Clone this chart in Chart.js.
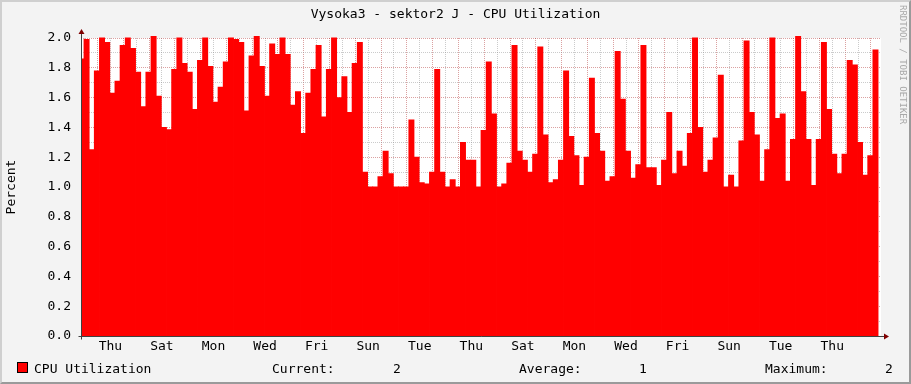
<!DOCTYPE html>
<html>
<head>
<meta charset="utf-8">
<script src="https://cdn.jsdelivr.net/npm/chart.js@4/dist/chart.umd.min.js"></script>
<style>
html,body{margin:0;padding:0;background:#f3f3f3;}
#wrap{position:relative;width:911px;height:384px;background:#f3f3f3;overflow:hidden;}
#c{position:absolute;left:0;top:0;}
#frame{position:absolute;left:0;top:0;width:911px;height:384px;box-sizing:border-box;border-style:solid;border-width:2px;border-color:#cfcfcf #9a9a9a #9a9a9a #cfcfcf;pointer-events:none;}
.t{position:absolute;font-family:"DejaVu Sans Mono",monospace;font-size:13px;line-height:15px;color:#000;white-space:pre;}
#box{position:absolute;left:17px;top:362px;width:11px;height:11px;box-sizing:border-box;border:1px solid #000;background:#ff0000;}
#wm{position:absolute;left:898px;top:5px;font-family:"DejaVu Sans Mono",monospace;font-size:9px;line-height:9px;color:#a8a8a8;writing-mode:vertical-rl;white-space:pre;}
</style>
</head>
<body>
<div id="wrap">
  <canvas id="c" width="911" height="384" style="width:911px;height:384px;"></canvas>
  <div id="box"></div>
  <div class="t" id="lg0" style="left:34px;top:361px;"></div>
  <div class="t" id="s0" style="left:272px;top:361px;"></div>
  <div class="t" id="v0" style="left:393px;top:361px;"></div>
  <div class="t" id="s1" style="left:519px;top:361px;"></div>
  <div class="t" id="v1" style="left:639px;top:361px;"></div>
  <div class="t" id="s2" style="left:765px;top:361px;"></div>
  <div class="t" id="v2" style="left:885px;top:361px;"></div>
  <div id="wm"></div>
  <div id="frame"></div>
</div>
<script>
// ---------------- data ----------------
const chartTitle = 'Vysoka3 - sektor2 J - CPU Utilization';
const yAxisTitle = 'Percent';
const seriesName = 'CPU Utilization';
const watermark = 'RRDTOOL / TOBI OETIKER';

const cpuValues = [
  1.86,1.99,1.25,1.78,2.00,1.97,1.63,1.71,1.95,2.00,1.93,1.77,1.54,1.77,2.01,1.61,1.40,1.385,1.79,2.00,
  1.83,1.77,1.52,1.85,2.00,1.81,1.57,1.67,1.84,2.00,1.99,1.97,1.51,1.88,2.01,1.81,1.61,1.96,1.89,2.00,
  1.89,1.55,1.64,1.36,1.63,1.79,1.95,1.47,1.79,2.00,1.60,1.74,1.50,1.83,1.97,1.10,1.00,1.00,1.07,1.24,
  1.09,1.00,1.00,1.00,1.45,1.20,1.03,1.02,1.10,1.79,1.10,1.00,1.05,1.00,1.30,1.18,1.18,1.00,1.38,1.84,
  1.49,1.00,1.02,1.16,1.95,1.24,1.18,1.10,1.22,1.94,1.35,1.03,1.05,1.18,1.78,1.34,1.21,1.01,1.20,1.73,
  1.36,1.24,1.04,1.07,1.91,1.59,1.24,1.06,1.15,1.95,1.13,1.13,1.01,1.18,1.50,1.09,1.24,1.14,1.36,2.00,
  1.40,1.10,1.18,1.33,1.75,1.00,1.08,1.00,1.31,1.98,1.50,1.35,1.04,1.25,2.00,1.46,1.49,1.04,1.32,2.01,
  1.64,1.32,1.01,1.32,1.97,1.52,1.22,1.09,1.22,1.85,1.82,1.30,1.08,1.21,1.92
];

const xTickLabels = ['Thu','Sat','Mon','Wed','Fri','Sun','Tue','Thu','Sat','Mon','Wed','Fri','Sun','Tue','Thu'];
const yTickLabels = ['0.0','0.2','0.4','0.6','0.8','1.0','1.2','1.4','1.6','1.8','2.0'];

const statNames  = ['Current:','Average:','Maximum:'];
const statValues = ['2','1','2'];

// ---------------- time layout (days) ----------------
const SPAN_DAYS  = 31.03;  // visible range
const BAR_DAYS   = 0.2;    // one sample
const FIRST_BAR  = 0.016;  // centre of first (partly hidden) sample
const FIRST_NOON = 0.14;   // first grid line (a noon)

const gridTimes = [];
for (let k = 0; FIRST_NOON + k * 0.5 <= SPAN_DAYS; k++) gridTimes.push(FIRST_NOON + k * 0.5);
const yTickValues = [];
for (let i = 0; i <= 20; i++) yTickValues.push(i / 10);

// ---------------- html text ----------------
document.getElementById('lg0').textContent = seriesName;
statNames.forEach((s, i) => {
  document.getElementById('s' + i).textContent = s;
  document.getElementById('v' + i).textContent = statValues[i];
});
document.getElementById('wm').textContent = watermark;

// ---------------- plugins ----------------
const plotBg = {
  id: 'plotBg',
  beforeDraw(chart) {
    const a = chart.chartArea, ctx = chart.ctx;
    ctx.save();
    ctx.fillStyle = '#ffffff';
    ctx.fillRect(a.left, a.top, a.right - a.left, a.bottom - a.top);
    ctx.restore();
  }
};
const axesArrows = {
  id: 'axesArrows',
  afterDraw(chart) {
    const a = chart.chartArea, ctx = chart.ctx;
    const L = Math.round(a.left) + 0.5, B = Math.round(a.bottom) + 0.5;
    ctx.save();
    ctx.strokeStyle = '#404040';
    ctx.lineWidth = 1;
    ctx.beginPath();
    ctx.moveTo(L - 3, B); ctx.lineTo(a.right + 3, B);
    ctx.moveTo(L, B + 3); ctx.lineTo(L, a.top - 4);
    ctx.stroke();
    ctx.fillStyle = '#800000';
    ctx.beginPath();
    ctx.moveTo(a.right + 3, B - 3); ctx.lineTo(a.right + 8, B); ctx.lineTo(a.right + 3, B + 3); ctx.closePath();
    ctx.fill();
    ctx.beginPath();
    ctx.moveTo(L - 3, a.top - 4); ctx.lineTo(L, a.top - 9); ctx.lineTo(L + 3, a.top - 4); ctx.closePath();
    ctx.fill();
    ctx.restore();
  }
};

const monoFont = { family: 'DejaVu Sans Mono', size: 13, weight: 'normal', lineHeight: '15px' };
const minorGrid = 'rgba(140,140,140,0.45)';
const majorGrid = 'rgba(170,30,30,0.42)';

new Chart(document.getElementById('c'), {
  type: 'bar',
  data: {
    datasets: [{
      label: seriesName,
      data: cpuValues.map((v, i) => ({ x: FIRST_BAR + i * BAR_DAYS, y: v })),
      backgroundColor: '#ff0000',
      borderWidth: 0,
      barPercentage: 1,
      categoryPercentage: 1,
      inflateAmount: 0.4,
      clip: { left: 0, right: 0, top: 4, bottom: 0 }
    }]
  },
  options: {
    responsive: false,
    animation: false,
    devicePixelRatio: 1,
    layout: { padding: { left: 0, right: 0, top: 0, bottom: 28 } },
    plugins: {
      legend: { display: false },
      tooltip: { enabled: false },
      title: {
        display: true, text: chartTitle, color: '#000',
        font: monoFont, padding: { top: 7, bottom: 16 }
      }
    },
    scales: {
      x: {
        type: 'linear', min: 0, max: SPAN_DAYS, offset: false, z: 1,
        afterBuildTicks(s) { s.ticks = gridTimes.map(v => ({ value: v })); },
        afterFit(s) { s.height = 20; },
        grid: {
          offset: false, drawTicks: false, lineWidth: 1,
          color: ctx => (ctx.index % 2 === 1 ? majorGrid : minorGrid)
        },
        border: { display: false, dash: [1, 1] },
        ticks: {
          autoSkip: false, maxRotation: 0, minRotation: 0, padding: 3, color: '#000', font: monoFont,
          callback: (v, i) => (i % 4 === 2 ? (xTickLabels[(i - 2) / 4] || '') : '')
        }
      },
      y: {
        min: 0, max: 2, z: 1,
        afterBuildTicks(s) { s.ticks = yTickValues.map(v => ({ value: v })); },
        afterFit(s) { s.width = 81; },
        grid: {
          drawTicks: false, lineWidth: 1,
          color: ctx => (ctx.index % 2 === 0 ? majorGrid : minorGrid)
        },
        border: { display: false, dash: [1, 1] },
        ticks: {
          autoSkip: false, padding: 10, color: '#000', font: monoFont,
          callback: (v, i) => (i % 2 === 0 ? yTickLabels[i / 2] : '')
        },
        title: { display: true, text: yAxisTitle, color: '#000', font: monoFont, padding: { top: 4, bottom: 0 } }
      },
      // empty right-hand margin box (keeps the plot 30px from the right edge)
      yRight: {
        position: 'right', min: 0, max: 2,
        afterFit(s) { s.width = 30; },
        grid: { display: false, drawOnChartArea: false },
        border: { display: false },
        ticks: { display: false }
      }
    }
  },
  plugins: [plotBg, axesArrows]
});
</script>
</body>
</html>
